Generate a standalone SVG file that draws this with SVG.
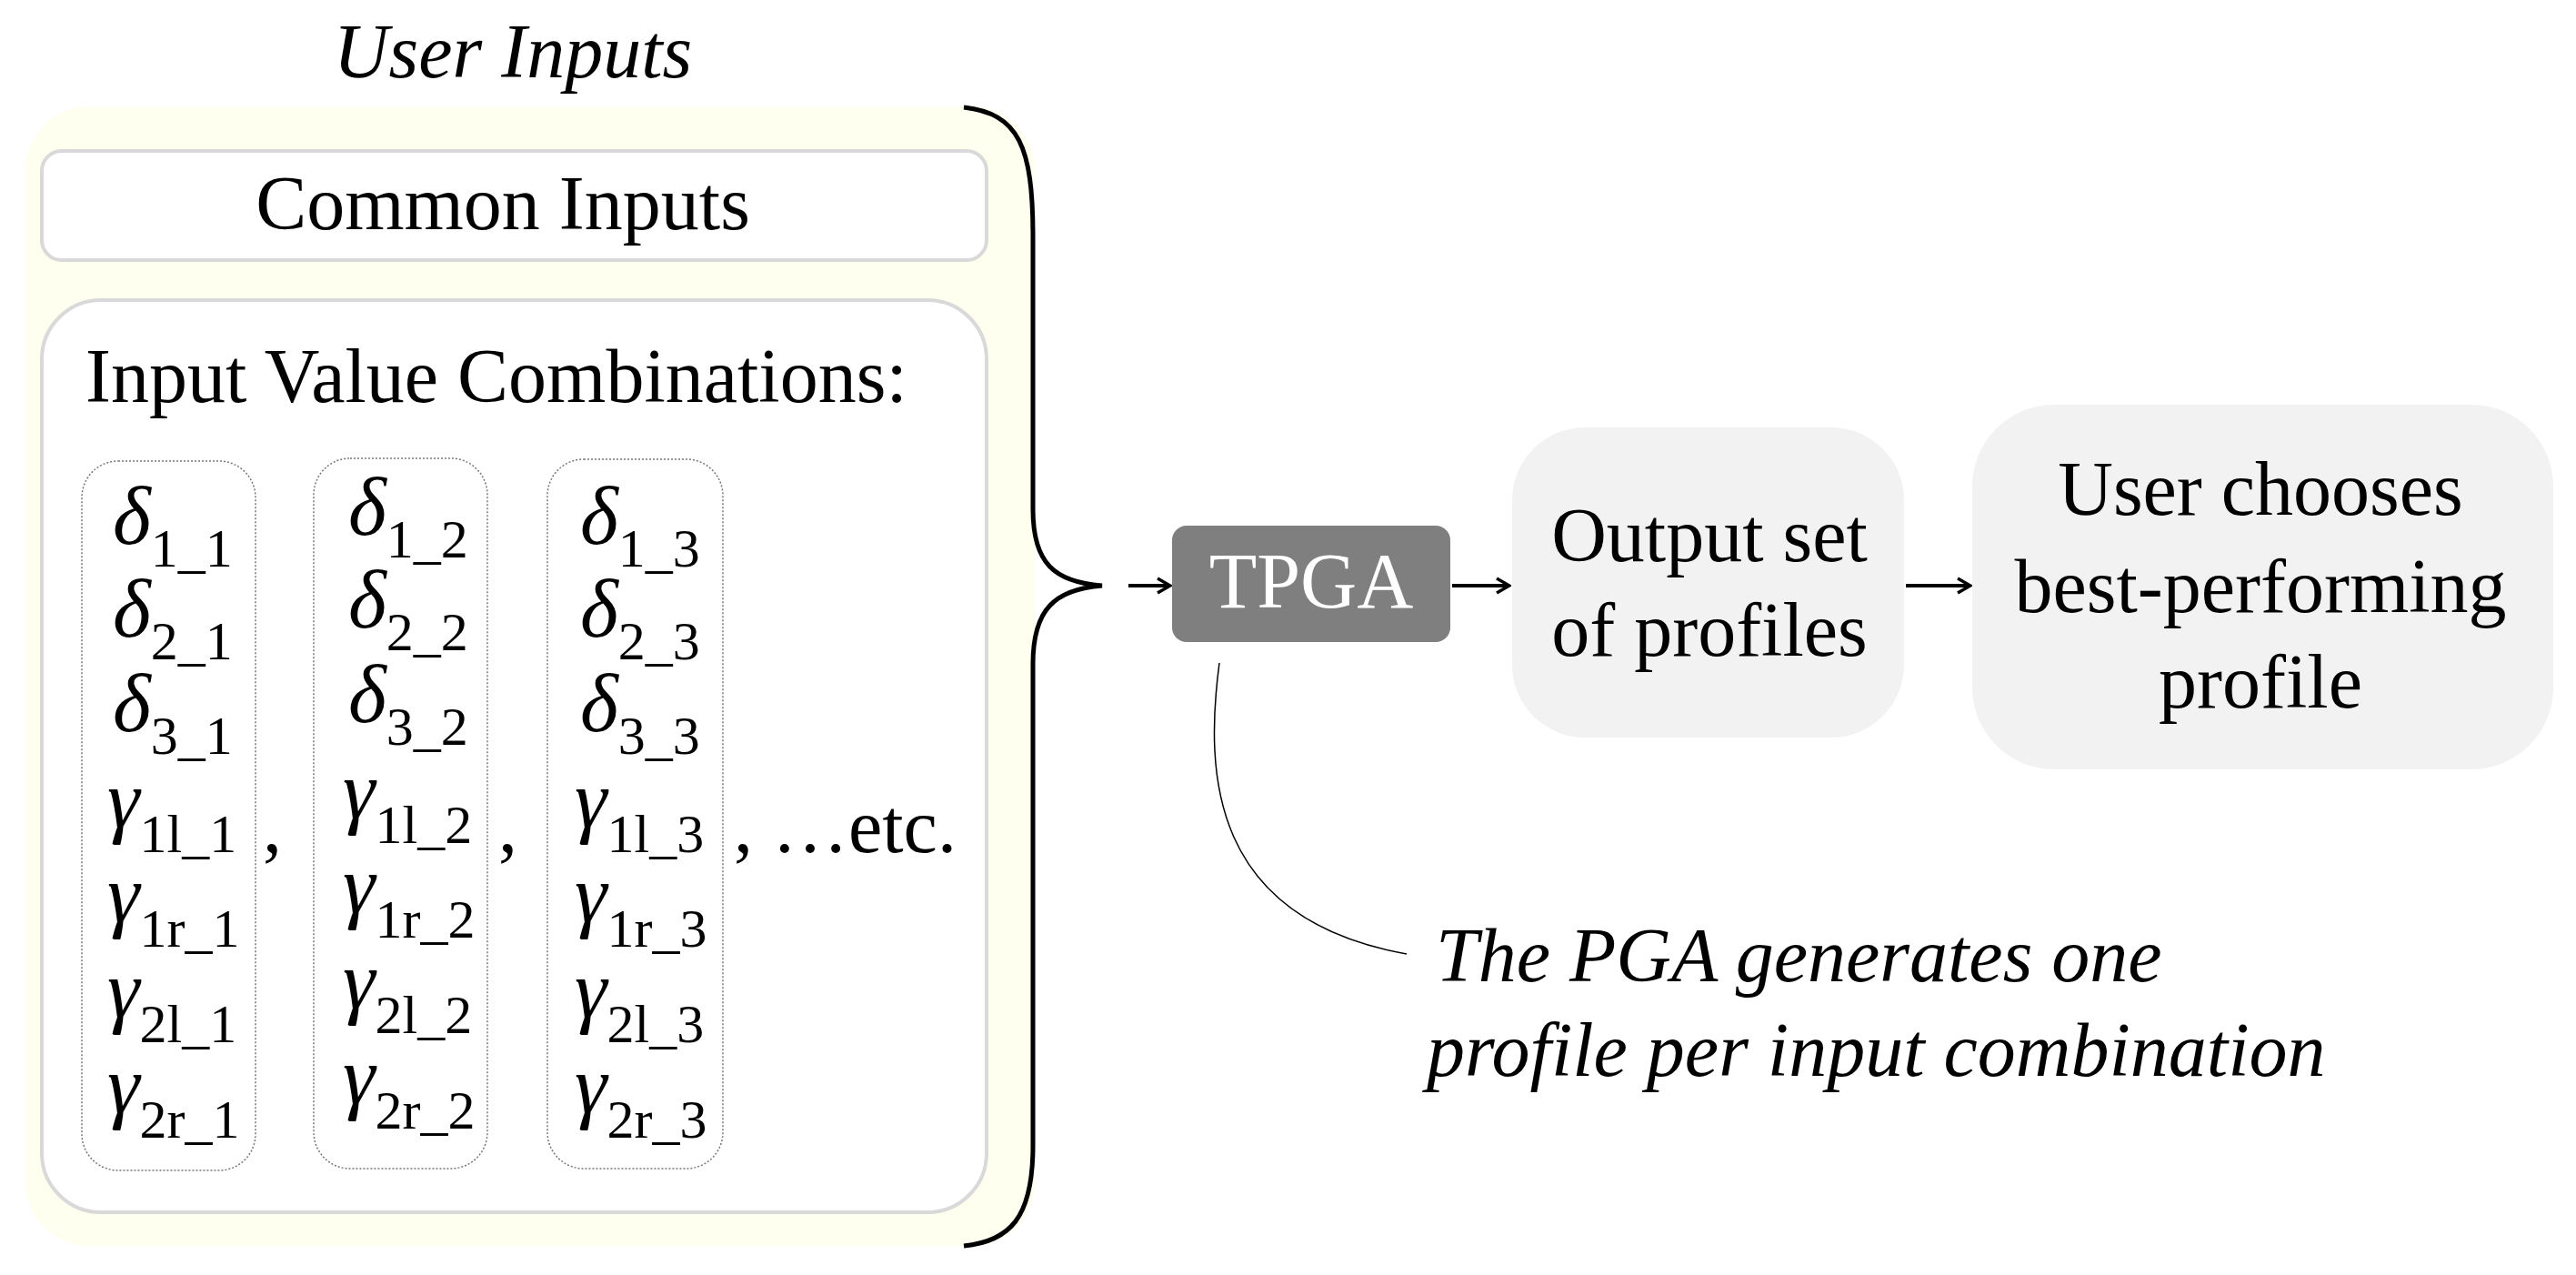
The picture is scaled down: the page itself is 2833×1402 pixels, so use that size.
<svg xmlns="http://www.w3.org/2000/svg" width="2833" height="1402" viewBox="0 0 2833 1402">
<defs>
<style>
text{font-family:"Liberation Serif","Times New Roman",serif;fill:#000}
.big{font-size:84px}
.it{font-style:italic}
.sym{font-size:90px;font-style:italic}
.sub{font-size:60px;font-style:normal}
.dot{fill:none;stroke:#777;stroke-width:1.5;stroke-dasharray:2 2}
.conn{fill:none;stroke:#000;stroke-width:4}
</style>
<marker id="ah" viewBox="0 0 20 20" refX="18" refY="10" markerWidth="20" markerHeight="20" markerUnits="userSpaceOnUse" orient="auto">
<path d="M4,2 L18,10 L4,18" fill="none" stroke="#000" stroke-width="3.5"/>
</marker>
</defs>
<rect width="2833" height="1402" fill="#fff"/>
<g id="user-inputs">
<text class="big it" x="564" y="85" text-anchor="middle">User Inputs</text>
<rect x="28" y="117" width="1110" height="1253" rx="70" fill="#fffff0"/>
</g>
<g id="common-inputs">
<rect x="46" y="166" width="1039" height="120" rx="22" fill="#fff" stroke="#d9d9d9" stroke-width="4"/>
<text class="big" x="553" y="252" text-anchor="middle">Common Inputs</text>
</g>
<g id="combinations">
<rect x="46" y="330" width="1039" height="1003" rx="65" fill="#fff" stroke="#d9d9d9" stroke-width="4"/>
<text class="big" x="94" y="442">Input Value Combinations:</text>
<rect class="dot" x="90" y="507" width="191" height="780" rx="40"/>
<rect class="dot" x="345" y="504" width="191" height="781" rx="40"/>
<rect class="dot" x="602" y="505" width="193" height="780" rx="40"/>
<g id="col1">
<text class="sym" x="124" y="598">δ<tspan class="sub" dy="25">1_1</tspan></text>
<text class="sym" x="124" y="700">δ<tspan class="sub" dy="25">2_1</tspan></text>
<text class="sym" x="124" y="804">δ<tspan class="sub" dy="25">3_1</tspan></text>
<text class="sym" x="118" y="910">γ<tspan class="sub" dy="27">1l_1</tspan></text>
<text class="sym" x="118" y="1014">γ<tspan class="sub" dy="27">1r_1</tspan></text>
<text class="sym" x="118" y="1119">γ<tspan class="sub" dy="27">2l_1</tspan></text>
<text class="sym" x="118" y="1224">γ<tspan class="sub" dy="27">2r_1</tspan></text>
</g>
<g id="col2">
<text class="sym" x="383" y="588">δ<tspan class="sub" dy="25">1_2</tspan></text>
<text class="sym" x="383" y="690">δ<tspan class="sub" dy="25">2_2</tspan></text>
<text class="sym" x="383" y="794">δ<tspan class="sub" dy="25">3_2</tspan></text>
<text class="sym" x="377" y="900">γ<tspan class="sub" dy="27">1l_2</tspan></text>
<text class="sym" x="377" y="1004">γ<tspan class="sub" dy="27">1r_2</tspan></text>
<text class="sym" x="377" y="1109">γ<tspan class="sub" dy="27">2l_2</tspan></text>
<text class="sym" x="377" y="1214">γ<tspan class="sub" dy="27">2r_2</tspan></text>
</g>
<g id="col3">
<text class="sym" x="638" y="598">δ<tspan class="sub" dy="25">1_3</tspan></text>
<text class="sym" x="638" y="700">δ<tspan class="sub" dy="25">2_3</tspan></text>
<text class="sym" x="638" y="804">δ<tspan class="sub" dy="25">3_3</tspan></text>
<text class="sym" x="632" y="910">γ<tspan class="sub" dy="27">1l_3</tspan></text>
<text class="sym" x="632" y="1014">γ<tspan class="sub" dy="27">1r_3</tspan></text>
<text class="sym" x="632" y="1119">γ<tspan class="sub" dy="27">2l_3</tspan></text>
<text class="sym" x="632" y="1224">γ<tspan class="sub" dy="27">2r_3</tspan></text>
</g>
<text class="big" x="289" y="937">,</text>
<text class="big" x="548" y="937">,</text>
<text class="big" x="807" y="937">, …etc.</text>
</g>
<g id="brace">
<path d="M1060,118 C1120,125 1136,160 1136,260 L1136,560 C1136,620 1160,640 1212,644 C1160,648 1136,670 1136,730 L1136,1260 C1136,1340 1110,1365 1060,1370" fill="none" stroke="#000" stroke-width="5"/>
</g>
<g id="tpga">
<rect x="1289" y="578" width="306" height="128" rx="16" fill="#7f7f7f"/>
<text class="big" x="1442" y="668" text-anchor="middle" style="fill:#fff;font-size:86px">TPGA</text>
</g>
<g id="output">
<rect x="1663" y="470" width="431" height="341" rx="80" fill="#f2f2f2"/>
<text class="big" x="1880" y="617" text-anchor="middle">Output set</text>
<text class="big" x="1880" y="721" text-anchor="middle">of profiles</text>
</g>
<g id="choose">
<rect x="2169" y="445" width="639" height="401" rx="90" fill="#f2f2f2"/>
<text class="big" x="2486" y="566" text-anchor="middle">User chooses</text>
<text class="big" x="2486" y="673" text-anchor="middle">best-performing</text>
<text class="big" x="2486" y="778" text-anchor="middle">profile</text>
</g>
<g id="caption">
<text class="big it" x="1579" y="1079">The PGA generates one</text>
<text class="big it" x="1569" y="1183">profile per input combination</text>
</g>
<g id="connectors">
<line class="conn" x1="1241" y1="644" x2="1287" y2="644" marker-end="url(#ah)"/>
<line class="conn" x1="1597" y1="644" x2="1660" y2="644" marker-end="url(#ah)"/>
<line class="conn" x1="2096" y1="644" x2="2167" y2="644" marker-end="url(#ah)"/>
<path d="M1341,729 C1325,850 1330,1010 1547,1049" fill="none" stroke="#000" stroke-width="1.5"/>
</g>
</svg>
